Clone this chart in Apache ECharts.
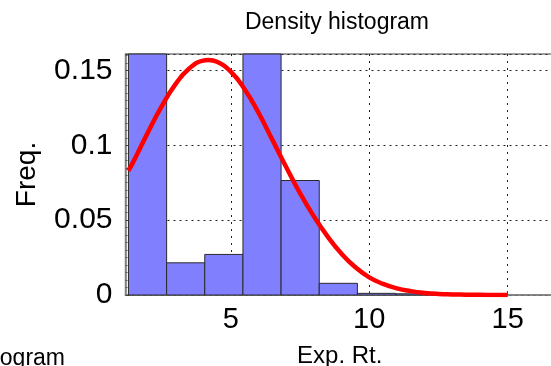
<!DOCTYPE html>
<html>
<head>
<meta charset="utf-8">
<script src="https://cdn.jsdelivr.net/npm/echarts@6/dist/echarts.min.js"></script>
<style>
  html, body { margin: 0; padding: 0; background: #fff; }
  #histChart { width: 551px; height: 366px; }
</style>
</head>
<body>
<div id="histChart"></div>
<script>
// histogram bins (left edge, right edge, density)
const binLeft = [1.307, 2.685, 4.062, 5.44, 6.817, 8.195, 9.572, 10.95]
const binRight = [2.685, 4.062, 5.44, 6.817, 8.195, 9.572, 10.95, 12.327]
const binDensity = [0.26, 0.0215, 0.0271, 0.24, 0.0765, 0.0078, 0.0011, 0.0008]

// fitted density curve
const curveX = [1.3, 1.5, 2, 2.5, 3, 3.5, 4, 4.2, 4.5, 5, 5.5, 6, 6.5, 7, 7.5, 8, 8.5, 9, 9.5, 10, 10.5, 11, 11.5, 12, 12.5, 13, 13.5, 14, 14.5, 15]
const curveY = [0.083, 0.0896, 0.1083, 0.1258, 0.1407, 0.1513, 0.1566, 0.157, 0.1558, 0.1492, 0.1375, 0.1218, 0.1038, 0.0855, 0.068, 0.0525, 0.039, 0.0275, 0.0185, 0.0118, 0.0074, 0.0044, 0.0026, 0.0014, 0.0007, 0.0004, 0.0002, 0.0001, 0.00005, 0.00002]

const xTicks = [5, 10, 15]
const yTicks = [0, 0.05, 0.1, 0.15]

const fontFamily = 'Liberation Sans, Arial, Helvetica, sans-serif'

const myChart = echarts.init(document.getElementById('histChart'))

const barData = binLeft.map((l, i) => [l, binRight[i], binDensity[i]])
const lineData = curveX.map((x, i) => [x, curveY[i]])

const options = {
  backgroundColor: '#fff',
  animation: false,
  title: [
    {
      text: 'Density histogram',
      left: 337,
      top: 11,
      textAlign: 'center',
      padding: 0,
      textStyle: { fontFamily, fontSize: 23, fontWeight: 'normal', color: '#000' }
    },
    {
      // title of the neighbouring panel, cut by the picture edge
      text: 'Density histogram',
      right: 486,
      top: 347,
      padding: 0,
      textStyle: { fontFamily, fontSize: 23, fontWeight: 'normal', color: '#000' }
    }
  ],
  grid: {
    left: 125.5,
    top: 54,
    right: -3,
    bottom: 71,
    outerBoundsMode: 'none',
    containLabel: false,
    show: true,
    borderColor: '#808080',
    borderWidth: 1.5,
    backgroundColor: '#fff'
  },
  xAxis: {
    type: 'value',
    min: 1.2,
    max: 16.67,
    name: 'Exp. Rt.',
    nameLocation: 'middle',
    nameGap: 49,
    nameTextStyle: { fontFamily, fontSize: 24, color: '#000' },
    axisLine: { show: true, lineStyle: { color: '#808080', width: 1.5 } },
    axisTick: { show: true, inside: true, length: 4, customValues: xTicks, lineStyle: { color: '#444' } },
    axisLabel: { customValues: xTicks, margin: 10, fontFamily, fontSize: 29, color: '#000' },
    splitLine: { show: true, lineStyle: { color: '#222', width: 1, type: [2, 5] } }
  },
  yAxis: {
    type: 'value',
    min: 0,
    max: 0.161,
    interval: 0.05,
    name: 'Freq.',
    nameLocation: 'middle',
    nameGap: 84,
    nameTextStyle: { fontFamily, fontSize: 28, color: '#000' },
    axisLine: { show: true, lineStyle: { color: '#808080', width: 1.5 } },
    axisTick: { show: true, inside: true, length: 4, lineStyle: { color: '#444' } },
    minorTick: { show: true, splitNumber: 10, length: 2, lineStyle: { color: '#555' } },
    axisLabel: { margin: 13, fontFamily, fontSize: 30, color: '#000',
      formatter: v => (yTicks.indexOf(v) >= 0 ? String(v) : '') },
    splitLine: { show: true, lineStyle: { color: '#222', width: 1, type: [2, 4] } }
  },
  series: [
    {
      type: 'custom',
      data: barData,
      encode: { x: [0, 1], y: 2 },
      renderItem: (params, api) => {
        const p0 = api.coord([api.value(0), 0])
        const p1 = api.coord([api.value(1), api.value(2)])
        const cs = params.coordSys
        const rect = echarts.graphic.clipRectByRect(
          { x: p0[0], y: p1[1], width: p1[0] - p0[0], height: p0[1] - p1[1] },
          { x: cs.x, y: cs.y, width: cs.width, height: cs.height }
        )
        if (!rect) return
        return {
          type: 'rect',
          shape: rect,
          style: { fill: '#8080ff', stroke: '#2a2a2a', lineWidth: 1 }
        }
      }
    },
    {
      type: 'line',
      data: lineData,
      smooth: true,
      showSymbol: false,
      clip: true,
      lineStyle: { color: '#ff0000', width: 4.5 }
    }
  ]
}

myChart.setOption(options)
</script>
</body>
</html>
